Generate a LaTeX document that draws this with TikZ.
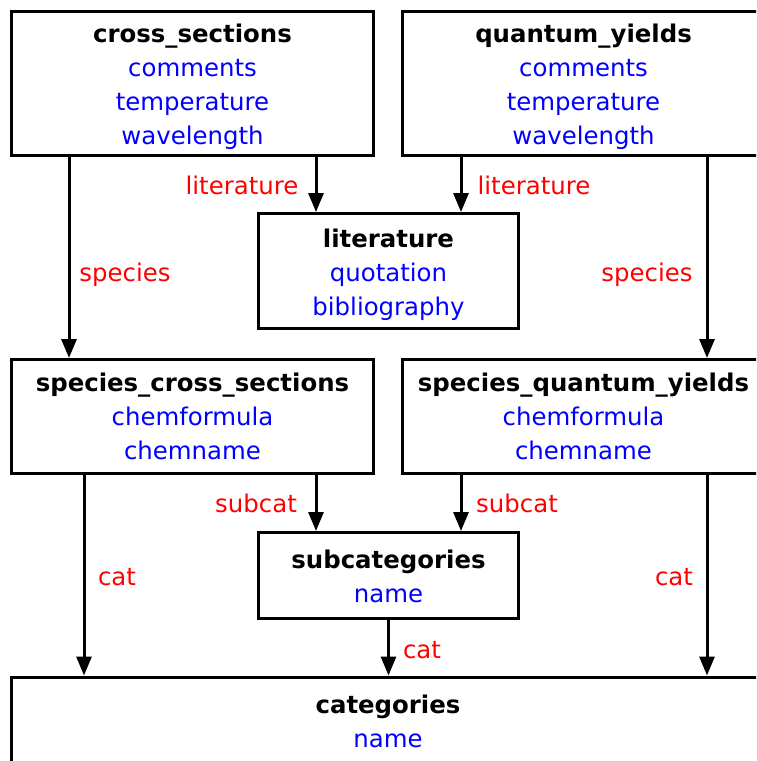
\documentclass[tikz,border=0pt]{standalone}
\usepackage{fontspec}
\setmainfont{DejaVu Sans}
\usetikzlibrary{arrows.meta}
\definecolor{fblue}{RGB}{0,0,255}
\definecolor{fred}{RGB}{255,0,0}
\newcommand{\tstrut}[1]{\rule{0pt}{#1}}
\begin{document}
\begin{tikzpicture}[x=1pt,y=-1pt,
 tbl/.style={draw, line width=3pt, inner sep=0pt, align=center, font=\fontsize{24.4}{34.3}\selectfont},
 wide/.style={minimum width=362pt},
 narrow/.style={minimum width=260pt},
 arr/.style={line width=3pt, -{Triangle[length=19pt,width=15pt]}},
 lbl/.style={text=fred, font=\fontsize{24.4}{29}\selectfont, inner sep=0pt, text height=0.76em, text depth=0.24em}]
\useasboundingbox (0,0) rectangle (756,761);
\clip (0,0) rectangle (756,761);
\node[tbl, wide, minimum height=144pt] (cs) at (192.5,83.5) {\tstrut{25pt}\textbf{cross\_sections}\\ \textcolor{fblue}{comments}\\ \textcolor{fblue}{temperature}\\ \textcolor{fblue}{wavelength}};
\node[tbl, wide, minimum height=144pt] (qy) at (583.5,83.5) {\tstrut{25pt}\textbf{quantum\_yields}\\ \textcolor{fblue}{comments}\\ \textcolor{fblue}{temperature}\\ \textcolor{fblue}{wavelength}};
\node[tbl, narrow, minimum height=115pt] (lit) at (388.5,271) {\tstrut{26pt}\textbf{literature}\\ \textcolor{fblue}{quotation}\\ \textcolor{fblue}{bibliography}};
\node[tbl, wide, minimum height=114pt] (scs) at (192.5,416.5) {\textbf{species\_cross\_sections}\\ \textcolor{fblue}{chemformula}\\ \textcolor{fblue}{chemname}};
\node[tbl, wide, minimum height=114pt] (sqy) at (583.5,416.5) {\textbf{species\_quantum\_yields}\\ \textcolor{fblue}{chemformula}\\ \textcolor{fblue}{chemname}};
\node[tbl, narrow, minimum height=86pt] (sub) at (388.5,575.5) {\tstrut{20pt}\textbf{subcategories}\\ \textcolor{fblue}{name}};
\node[tbl, minimum width=754pt, minimum height=88pt] (cat) at (388,721) {\tstrut{20pt}\textbf{categories}\\ \textcolor{fblue}{name}};
% connectors
\draw[arr] ([xshift=-123.5pt]cs.south) -- ([xshift=-123.5pt]scs.north);
\draw[arr] ([xshift=123.5pt]cs.south) -- ([xshift=-72.5pt]lit.north);
\draw[arr] ([xshift=-122.5pt]qy.south) -- ([xshift=72.5pt]lit.north);
\draw[arr] ([xshift=123.5pt]qy.south) -- ([xshift=123.5pt]sqy.north);
\draw[arr] ([xshift=-108.5pt]scs.south) -- ([xshift=-304pt]cat.north);
\draw[arr] ([xshift=123.5pt]scs.south) -- ([xshift=-72.5pt]sub.north);
\draw[arr] ([xshift=-122.5pt]sqy.south) -- ([xshift=72.5pt]sub.north);
\draw[arr] ([xshift=123.5pt]sqy.south) -- ([xshift=319pt]cat.north);
\draw[arr] (sub.south) -- ([xshift=0.5pt]cat.north);
% labels
\node[lbl] (l1) at (242,192) {literature};
\node[lbl] (l2) at (534,192) {literature};
\node[lbl] (l3) at (125,279) {species};
\node[lbl] (l4) at (647,279) {species};
\node[lbl] (l5) at (256,510) {subcat};
\node[lbl] (l6) at (517,510) {subcat};
\node[lbl] (l7) at (117,583) {cat};
\node[lbl] (l8) at (674,583) {cat};
\node[lbl] (l9) at (422,656) {cat};
\end{tikzpicture}
\end{document}
